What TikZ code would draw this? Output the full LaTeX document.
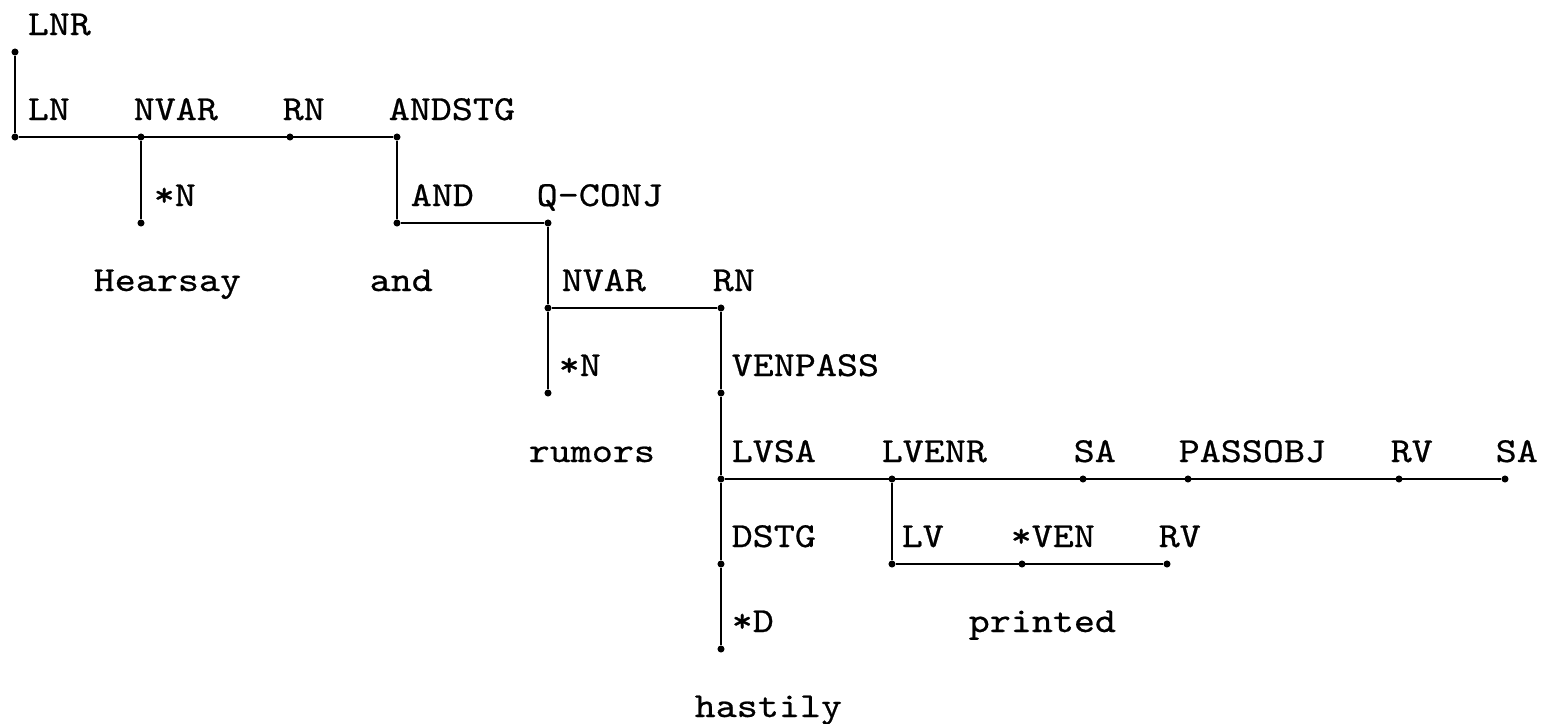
\documentclass[tikz,border=0pt]{standalone}
\usepackage{fontspec}
\setmonofont[FakeStretch=1.14,FakeBold=0.6]{Latin Modern Mono}

\begin{document}
\begin{tikzpicture}[x=0.01cm,y=-0.01cm,
  lbl/.style={anchor=base west,inner sep=0pt,font=\ttfamily\fontsize{10}{12}\selectfont},
  pt/.style={circle,fill,inner sep=0pt,minimum size=2pt},
  link/.style={line width=0.5pt}]
\useasboundingbox (0,0) rectangle (1544,724);
\node[lbl] (lnr) at (27,35) {LNR};
\node[lbl] (ln) at (27,120) {LN};
\node[lbl] (nvar1) at (133,120) {NVAR};
\node[lbl] (rn1) at (282,120) {RN};
\node[lbl] (andstg) at (388,120) {ANDSTG};
\node[lbl] (n1) at (153,206) {*N};
\node[lbl] (and) at (410,206) {AND};
\node[lbl] (qconj) at (536,206) {Q-CONJ};
\node[lbl] (hearsay) at (93,291) {Hearsay};
\node[lbl] (wand) at (369,291) {and};
\node[lbl] (nvar2) at (561,291) {NVAR};
\node[lbl] (rn2) at (712,291) {RN};
\node[lbl] (n2) at (558,376) {*N};
\node[lbl] (venpass) at (731,376) {VENPASS};
\node[lbl] (rumors) at (528,462) {rumors};
\node[lbl] (lvsa) at (731,462) {LVSA};
\node[lbl] (lvenr) at (881,462) {LVENR};
\node[lbl] (sa1) at (1073,462) {SA};
\node[lbl] (passobj) at (1178,462) {PASSOBJ};
\node[lbl] (rv1) at (1390,462) {RV};
\node[lbl] (sa2) at (1495,462) {SA};
\node[lbl] (dstg) at (731,547) {DSTG};
\node[lbl] (lv) at (901,547) {LV};
\node[lbl] (ven) at (1010,547) {*VEN};
\node[lbl] (rv2) at (1158,547) {RV};
\node[lbl] (d) at (731,632) {*D};
\node[lbl] (printed) at (968,632) {printed};
\node[lbl] (hastily) at (694,717) {hastily};
\foreach \n/\x/\y in {lnr/15/52, ln/15/137, nvar1/141/137, rn1/290/137, andstg/397/137,
    n1/141/223, and/397/223, qconj/548/223, nvar2/548/308, rn2/721/308,
    n2/548/393, venpass/721/393, lvsa/721/479, lvenr/892/479, sa1/1083/479,
    passobj/1188/479, rv1/1399/479, sa2/1505/479, dstg/721/564, lv/892/564,
    ven/1022/564, rv2/1167/564, d/721/649}
  \node[pt] (d-\n) at (\x,\y) {};
\draw[link] (d-lnr) -- (d-ln) -- (d-andstg);
\draw[link] (d-nvar1) -- (d-n1);
\draw[link] (d-andstg) -- (d-and) -- (d-qconj);
\draw[link] (d-qconj) -- (d-nvar2) -- (d-rn2);
\draw[link] (d-nvar2) -- (d-n2);
\draw[link] (d-rn2) -- (d-venpass) -- (d-lvsa) -- (d-sa2);
\draw[link] (d-lvsa) -- (d-dstg) -- (d-d);
\draw[link] (d-lvenr) -- (d-lv) -- (d-rv2);
\end{tikzpicture}
\end{document}
